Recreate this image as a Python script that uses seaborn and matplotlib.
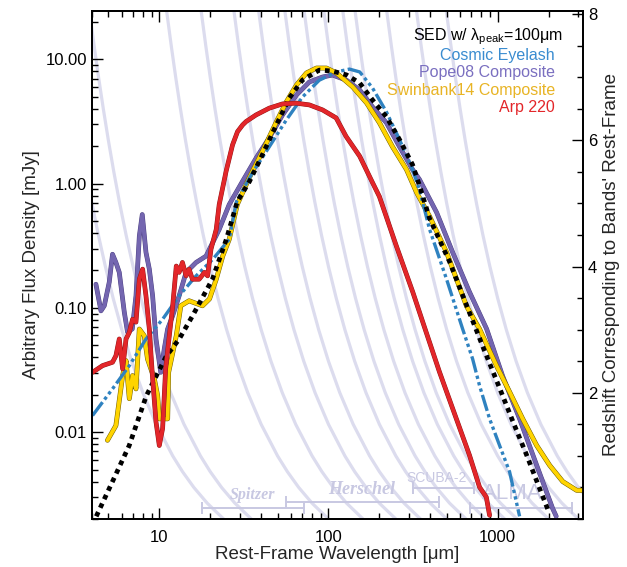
import numpy as np
import matplotlib
matplotlib.use("Agg")
import matplotlib.pyplot as plt
import matplotlib.patheffects as pe
import matplotlib.transforms as mtrans
from matplotlib.ticker import FixedLocator, NullFormatter, LogLocator, MultipleLocator
import seaborn as sns

# SED with lambda_peak = 100 um (black dotted)
sed_lam = [4.24, 5.42, 6.64, 8.38, 11.0, 13.1, 15.7, 20.6, 24.9, 28.9, 34.1, 40.7, 49.2, 58.7,
           70.2, 88.3, 105.6, 127.8, 153, 182, 220, 263, 314, 345, 396, 520, 655, 815, 1027,
           1227, 1486, 1773, 1977]
sed_flux = [0.0021, 0.0043, 0.0078, 0.0196, 0.041, 0.056, 0.086, 0.170, 0.356, 0.717, 1.04,
            1.71, 2.97, 4.89, 6.82, 8.2, 8.05, 7.5, 6.45, 4.72, 3.45, 2.26, 1.42, 0.964, 0.524,
            0.235, 0.105, 0.0493, 0.0226, 0.0123, 0.0065, 0.0035, 0.0024]

# Cosmic Eyelash
eye_lam = [4.03, 5.29, 6.65, 8.34, 10.46, 13.1, 16.5, 20.7, 25.9, 28.6, 35.5, 44.7, 56.4, 70.2,
           88.3, 111.5, 133, 153, 182, 220, 263, 314, 345, 396, 499, 621, 711, 782, 896, 1027,
           1176, 1348]
eye_flux = [0.0136, 0.0223, 0.0343, 0.0562, 0.081, 0.125, 0.181, 0.246, 0.356, 0.717, 1.22,
            1.98, 3.26, 4.98, 6.8, 7.92, 8.35, 7.92, 5.89, 3.78, 2.26, 1.30, 0.895, 0.428, 0.170,
            0.0676, 0.0389, 0.0236, 0.0128, 0.0078, 0.0048, 0.0021]

# Pope08 composite
pope_lam = [4.22, 4.52, 4.73, 5.06, 5.29, 5.54, 5.80, 6.21, 6.49, 6.92, 7.28, 7.62, 7.93, 8.34,
            8.73, 9.13, 9.56, 10.2, 10.7, 11.2, 12.0, 13.1, 14.4, 16.5, 18.9, 20.7, 22.6, 25.9,
            31.0, 37.5, 44.7, 53.5, 64.7, 77.1, 92.2, 105.6, 127.8, 153, 182, 220, 263, 314,
            345, 436, 542, 682, 861, 1070, 1348, 1702, 2114, 2220]
pope_flux = [0.155, 0.0946, 0.104, 0.161, 0.27, 0.232, 0.193, 0.0924, 0.0638, 0.0676, 0.125,
             0.378, 0.564, 0.28, 0.205, 0.125, 0.0562, 0.0303, 0.0468, 0.0676, 0.0866, 0.125,
             0.193, 0.232, 0.261, 0.336, 0.428, 0.679, 1.04, 1.62, 2.34, 3.57, 5.17, 6.58, 7.21,
             7.48, 6.8, 5.67, 4.15, 3.09, 1.98, 1.30, 1.08, 0.585, 0.280, 0.134, 0.0676, 0.0283,
             0.0128, 0.0054, 0.00243, 0.0021]

# Swinbank14 composite
swin_lam = [4.94, 5.54, 6.07, 6.36, 6.65, 6.95, 7.28, 7.62, 8.15, 8.52, 9.34, 9.77, 10.0, 11.2,
            11.35, 12.6, 13.4, 15.0, 18.0, 19.8, 21.7, 23.7, 25.9, 28.9, 34.1, 40.7, 49.2, 56.4,
            64.7, 74.1, 84.9, 97.3, 111.5, 139, 168, 200, 239, 289, 332, 396, 499, 655, 782,
            986, 1176, 1406, 1702, 2031, 2427, 2933, 3200]
swin_flux = [0.0086, 0.0113, 0.0285, 0.0376, 0.0186, 0.0285, 0.0223, 0.0675, 0.0596, 0.0388,
             0.0269, 0.0197, 0.0128, 0.0128, 0.0303, 0.0596, 0.104, 0.114, 0.104, 0.118, 0.170,
             0.261, 0.356, 0.679, 1.12, 1.81, 3.14, 4.55, 6.22, 7.77, 8.51, 8.51, 7.77, 6.0,
             4.46, 3.09, 1.98, 1.30, 0.847, 0.544, 0.280, 0.103, 0.0675, 0.034, 0.0211, 0.0128,
             0.0078, 0.0054, 0.0040, 0.0034, 0.0034]

# Arp 220
arp_lam = [4.03, 4.62, 5.29, 5.54, 5.80, 6.07, 6.36, 6.65, 6.95, 7.28, 7.62, 7.97, 8.34, 8.73,
           9.13, 9.56, 10.0, 10.46, 10.9, 11.46, 12.0, 12.6, 13.1, 13.7, 14.4, 15.0, 15.7, 17.2,
           18.5, 19.3, 20.2, 21.7, 22.6, 24.8, 27.1, 29.0, 31.1, 32.6, 37.3, 44.7, 53.5, 64.4,
           77.1, 92.2, 111, 127, 153, 182, 200, 252, 315, 361, 453, 570, 682, 782, 857, 896]
arp_flux = [0.0303, 0.0343, 0.0365, 0.0412, 0.0562, 0.0323, 0.0562, 0.0635, 0.081, 0.0768,
            0.170, 0.205, 0.125, 0.0676, 0.0269, 0.0121, 0.0078, 0.0107, 0.0323, 0.0596, 0.104,
            0.217, 0.193, 0.232, 0.181, 0.205, 0.170, 0.170, 0.193, 0.181, 0.296, 0.428, 0.679,
            1.25, 2.05, 2.62, 2.97, 3.16, 3.57, 4.05, 4.38, 4.44, 4.30, 3.92, 3.38, 2.40, 1.66,
            1.02, 0.787, 0.314, 0.134, 0.0768, 0.0305, 0.0128, 0.0065, 0.0036, 0.0030, 0.00214]

# observed bands (um) whose rest-frame tracks are drawn against redshift
band_um = [24, 35, 100, 160, 250, 350, 500, 650, 850, 1100, 1300, 2000, 3000, 4500]
track_z = [0.0, 0.25, 0.5, 0.75, 1.0, 1.5, 2.0, 2.5, 3.0, 3.5, 4.0, 4.5, 5.0, 5.5, 6.0, 6.5,
           7.0, 7.5, 8.0, 8.5]

# facility coverage bars
facility = ["Spitzer", "Herschel", "SCUBA-2", "ALMA"]
facility_lo = [18, 56.4, 318, 683]
facility_hi = [72, 452, 729, 2750]

legend_labels = ["SED w/ λ$_{\\rm peak}$=100μm", "Cosmic Eyelash", "Pope08 Composite",
                 "Swinbank14 Composite", "Arp 220"]

sns.set_theme(style="ticks")
plt.rcParams['font.family'] = ['Liberation Sans', 'DejaVu Sans']
plt.rcParams['mathtext.fontset'] = 'custom'
plt.rcParams['mathtext.rm'] = 'Liberation Sans'
plt.rcParams['mathtext.it'] = 'Liberation Sans:italic'

fig = plt.figure(figsize=(6.27, 5.67), dpi=100)
ax = fig.add_axes([0.1467, 0.0847, 0.7833, 0.8959])
ax2 = ax.twinx()

lavender = "#dcdcee"
for b in band_um:
    lam = [b / (1 + z) for z in track_z]
    ax2.plot(lam, track_z, color=lavender, lw=2.3, solid_capstyle="butt")
ax2.set_ylim(0, 8.05)

ax.set_zorder(ax2.get_zorder() + 1)
ax.patch.set_visible(False)

c_blue = "#2f82c0"
c_purple = "#7466b0"
c_yellow = "#ffd400"
c_red = "#e3262a"

sns.lineplot(x=pope_lam, y=pope_flux, ax=ax, color=c_purple, lw=2.8, sort=False,
             path_effects=[pe.Stroke(linewidth=3.4, foreground="#4a3f80"), pe.Normal()])
sns.lineplot(x=swin_lam, y=swin_flux, ax=ax, color=c_yellow, lw=2.8, sort=False,
             path_effects=[pe.Stroke(linewidth=3.5, foreground="#6e5c00"), pe.Normal()])
sns.lineplot(x=eye_lam, y=eye_flux, ax=ax, color=c_blue, lw=2.4, sort=False,
             linestyle=(0, (5, 1, 1, 1, 1, 1, 1, 1)))
sns.lineplot(x=sed_lam, y=sed_flux, ax=ax, color="black", lw=3.4, sort=False,
             linestyle=(0, (1, 1)), dash_capstyle="butt")
sns.lineplot(x=arp_lam, y=arp_flux, ax=ax, color=c_red, lw=2.8, sort=False,
             path_effects=[pe.Stroke(linewidth=3.4, foreground="#8a1515"), pe.Normal()])

ax.set_xscale("log")
ax.set_yscale("log")
ax.set_xlim(4, 3200)
ax.set_ylim(0.002, 24.5)

ax.xaxis.set_major_locator(FixedLocator([10, 100, 1000]))
ax.set_xticklabels(["10", "100", "1000"])
ax.xaxis.set_minor_locator(LogLocator(base=10, subs=np.arange(2, 10)))
ax.xaxis.set_minor_formatter(NullFormatter())
ax.yaxis.set_major_locator(FixedLocator([0.01, 0.1, 1, 10]))
ax.set_yticklabels(["0.01", "0.10", "1.00", "10.00"])
ax.yaxis.set_minor_locator(LogLocator(base=10, subs=np.arange(2, 10)))
ax.yaxis.set_minor_formatter(NullFormatter())

ax.tick_params(axis="x", which="both", direction="in", top=True, bottom=True, labelsize=12, pad=8, colors="black")
ax.tick_params(axis="y", which="both", direction="in", left=True, right=False, labelsize=12, colors="black")
ax.tick_params(which="major", length=8, width=1)
ax.tick_params(which="minor", length=4, width=1)

ax2.yaxis.set_major_locator(FixedLocator([2, 4, 6, 8]))
ax2.set_yticklabels(["2", "4", "6", "8"])
ax2.yaxis.set_minor_locator(MultipleLocator(0.5))
ax2.tick_params(axis="y", which="both", direction="in", labelsize=12, colors="black")
ax2.tick_params(which="major", length=8, width=1)
ax2.tick_params(which="minor", length=4, width=1)

for a in (ax, ax2):
    for s in a.spines.values():
        s.set_color("black")
        s.set_linewidth(1.3)

ax.set_xlabel("Rest-Frame Wavelength [μm]", fontsize=13.5, labelpad=1)
ax.set_ylabel("Arbitrary Flux Density [mJy]", fontsize=13.5, labelpad=4)
ax2.set_ylabel("Redshift Corresponding to Bands' Rest-Frame", fontsize=13.5, labelpad=4)

# facility bars
bar_col = "#c8c8e2"
tr = mtrans.blended_transform_factory(ax.transData, ax.transAxes)
bar_y = [0.022, 0.034, 0.060, 0.022]
lab_pos = [(35.5, 0.047), (157, 0.059), (434, 0.081), (1226, 0.051)]
lab_style = [dict(family="Liberation Serif", style="italic", weight="bold", fontsize=11.5),
             dict(family="Liberation Serif", style="italic", weight="bold", fontsize=13),
             dict(fontsize=10),
             dict(fontsize=16)]
for name, lo, hi, yb, (lx, ly), st in zip(facility, facility_lo, facility_hi, bar_y, lab_pos, lab_style):
    ax.plot([lo, hi], [yb, yb], transform=tr, color=bar_col, lw=1.4, zorder=1)
    ax.plot([lo, hi], [yb, yb], transform=tr, color=bar_col, lw=0, marker="|",
            markersize=8, markeredgewidth=1.4, zorder=1)
    ax.text(lx, ly, name, transform=tr, color=bar_col, ha="center", va="center", zorder=1, **st)

# legend as coloured text
leg_cols = ["black", "#3a8cd0", "#7a6fc0", "#e8b425", "#e3262a"]
leg_x = [0.959, 0.943, 0.943, 0.943, 0.943]
leg_y = [0.950, 0.912, 0.878, 0.844, 0.810]
for t, c, lx, ly in zip(legend_labels, leg_cols, leg_x, leg_y):
    ax.text(lx, ly, t, transform=ax.transAxes, color=c, ha="right", va="center", fontsize=11.5)

fig.savefig("out.png", dpi=100)
